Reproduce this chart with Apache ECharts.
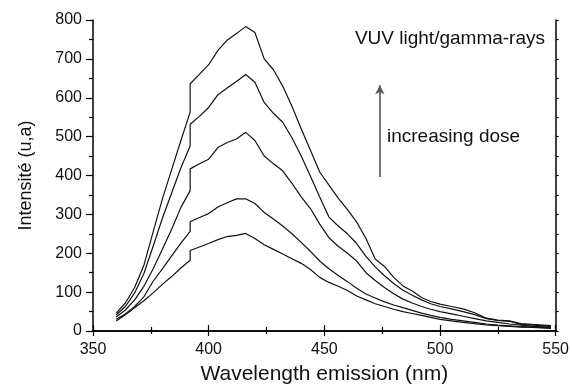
<!DOCTYPE html>
<html><head><meta charset="utf-8">
<script src="https://cdn.jsdelivr.net/npm/echarts@6/dist/echarts.min.js"></script>
<style>html,body{margin:0;padding:0;background:#fff}#c{width:572px;height:390px}</style>
</head><body><div id="c"></div>
<script>
const wavelength = [360,364,368,372,376,380,384,388,392,392,396,400,404,408,412,416,420,424,428,432,436,440,444,448,452,456,460,464,468,472,476,480,484,488,492,496,500,505,510,515,520,525,530,535,540,548];
const dose1 = [26,42,60,78,98,120,140,162,182,207,216,225,235,243,246,251,238,222,210,198,186,174,158,138,125,115,104,90,80,70,63,56,50,45,40,35,30,26,22,19,16,14,12,10,9,7];
const dose2 = [30,44,63,88,128,160,193,226,256,281,292,302,319,330,340,340,328,305,288,270,250,228,205,180,160,143,127,110,95,85,75,67,60,53,46,40,35,30,26,22,18,15,13,11,10,8];
const dose3 = [36,54,80,115,160,210,262,318,361,417,430,442,472,485,494,511,490,450,430,412,380,345,315,275,240,218,200,180,150,130,112,96,82,72,63,56,50,44,38,32,26,22,18,15,12,10];
const dose4 = [41,63,98,148,218,290,355,420,476,532,552,575,608,625,642,660,640,588,560,537,497,450,398,345,293,270,250,225,192,165,142,122,105,92,80,70,63,57,50,42,32,27,25,17,15,12];
const dose5 = [46,72,112,169,255,340,415,490,563,636,660,685,722,748,765,783,768,700,672,630,578,520,465,409,375,342,312,280,238,185,166,138,116,103,86,76,69,63,57,47,33,28,26,19,17,14];
const seriesValues = [dose1, dose2, dose3, dose4, dose5];
const xTicks = [350,400,450,500,550];
const yTicks = [0,100,200,300,400,500,600,700,800];
const annotTop = 'VUV light/gamma-rays';
const annotDose = 'increasing dose';

const chart = echarts.init(document.getElementById('c'), null, {renderer:'canvas'});
const FONT = 'Liberation Sans, Arial, sans-serif';
const axisCommon = {
  axisLine:{show:true, lineStyle:{color:'#000', width:1.5}},
  splitLine:{show:false}
};
const series = seriesValues.map((vals, i) => ({
  type:'line', xAxisIndex:0, yAxisIndex:0,
  data: vals.map((v, j) => [wavelength[j], v]),
  showSymbol:false, symbol:'none', silent:true,
  lineStyle:{color:'#111', width:1.2}, animation:false
}));
series[4].markLine = {
  silent:true, symbol:['none','arrow'], symbolSize:[7,9],
  label:{show:false},
  lineStyle:{color:'#555', width:1.6, type:'solid'},
  data:[[{coord:[474, 396]},{coord:[474, 632]}]],
  animation:false
};
chart.setOption({
  animation:false,
  grid:{left:93, right:15, top:20, bottom:57},
  xAxis:[
    Object.assign({}, axisCommon, {
      type:'value', position:'bottom', min:xTicks[0], max:xTicks[xTicks.length-1], interval:50,
      name:'Wavelength emission (nm)', nameLocation:'middle', nameGap:33,
      nameTextStyle:{fontFamily:FONT, fontSize:21, color:'#111'},
      axisTick:{show:true, inside:false, length:5, lineStyle:{color:'#000', width:1.2}},
      minorTick:{show:true, splitNumber:2, length:3, lineStyle:{color:'#000', width:1.2}},
      axisLabel:{fontFamily:FONT, fontSize:16, color:'#111', margin:11}
    }),
    Object.assign({}, axisCommon, {
      type:'value', position:'top', min:xTicks[0], max:xTicks[xTicks.length-1], interval:50,
      axisTick:{show:true, inside:false, length:6, lineStyle:{color:'#000', width:1.2}},
      minorTick:{show:true, splitNumber:2, length:4, lineStyle:{color:'#000', width:1.2}},
      axisLabel:{show:false}
    })
  ],
  yAxis:[
    Object.assign({}, axisCommon, {
      type:'value', position:'left', min:yTicks[0], max:yTicks[yTicks.length-1], interval:100,
      name:'Intensité (u,a)', nameLocation:'middle', nameGap:58, nameRotate:90,
      nameTextStyle:{fontFamily:FONT, fontSize:18, color:'#111'},
      axisTick:{show:true, inside:false, length:7, lineStyle:{color:'#000', width:1.2}},
      minorTick:{show:true, splitNumber:2, length:4, lineStyle:{color:'#000', width:1.2}},
      axisLabel:{fontFamily:FONT, fontSize:16, color:'#111', margin:11}
    }),
    Object.assign({}, axisCommon, {
      type:'value', position:'right', min:yTicks[0], max:yTicks[yTicks.length-1], interval:100,
      axisTick:{show:true, inside:false, length:3, lineStyle:{color:'#000', width:1.2}},
      minorTick:{show:true, splitNumber:2, length:3, lineStyle:{color:'#000', width:1.2}},
      axisLabel:{show:false}
    })
  ],
  graphic:[
    {type:'text', x:545, y:38.5, style:{text:annotTop, fontFamily:FONT, fontSize:19, fill:'#111', align:'right', verticalAlign:'middle'}},
    {type:'text', x:387, y:136.5, style:{text:annotDose, fontFamily:FONT, fontSize:19, fill:'#111', align:'left', verticalAlign:'middle'}}
  ],
  series: series
});
</script></body></html>
